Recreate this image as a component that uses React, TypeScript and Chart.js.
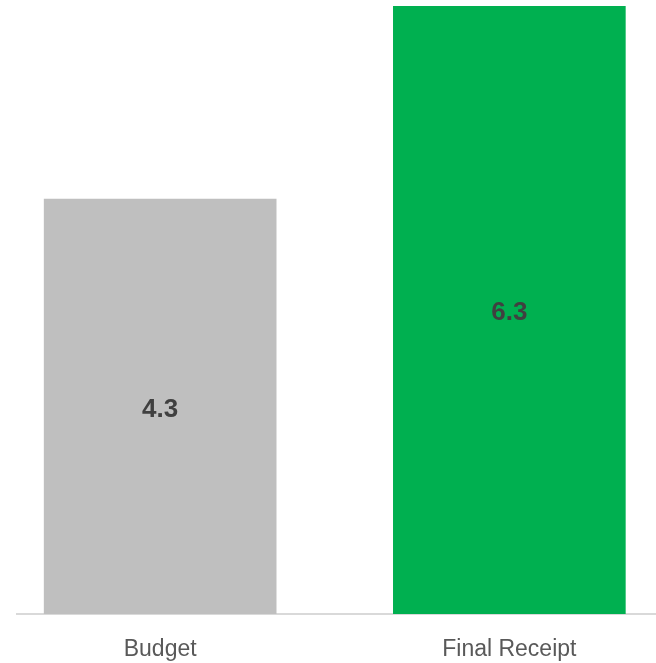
import React, { useEffect, useRef } from "react";
import { Chart, registerables } from "chart.js";

Chart.register(...registerables);

const categories = ["Budget", "Final Receipt"];
const values = [4.3, 6.3];
const barColors = ["#BFBFBF", "#00B050"];
const xPositions = [0, 1];

const valueLabelPlugin = {
  id: "valueLabels",
  afterDatasetsDraw(chart: any) {
    const ctx = chart.ctx;
    const meta = chart.getDatasetMeta(0);
    ctx.save();
    ctx.font = "bold 26px 'Liberation Sans', Arial, sans-serif";
    ctx.fillStyle = "#404040";
    ctx.textAlign = "center";
    ctx.textBaseline = "middle";
    meta.data.forEach((el: any, i: number) => {
      const y = (el.y + el.base) / 2 + 3;
      ctx.fillText(values[i].toFixed(1), el.x, y);
    });
    ctx.restore();
  },
};

export default function App() {
  const ref = useRef<HTMLCanvasElement | null>(null);
  useEffect(() => {
    document.body.style.margin = "0";
    const chart = new Chart(ref.current as HTMLCanvasElement, {
      type: "bar",
      data: {
        datasets: [
          {
            data: xPositions.map((x, i) => ({ x, y: values[i] })),
            backgroundColor: barColors,
            borderWidth: 0,
            barThickness: 232,
          },
        ],
      },
      options: {
        animation: false,
        responsive: false,
        maintainAspectRatio: false,
        layout: { padding: { top: 6, left: 17, right: 0, bottom: 2 } },
        plugins: {
          legend: { display: false },
          tooltip: { enabled: false },
        },
        scales: {
          x: {
            type: "linear",
            offset: false,
            min: -0.41,
            max: 1.42,
            grid: { display: false, drawTicks: false },
            border: { display: true, color: "#D9D9D9", width: 2 },
            afterBuildTicks: (scale: any) => {
              scale.ticks = xPositions.map((v) => ({ value: v }));
            },
            afterFit: (scale: any) => {
              scale.height = 47;
            },
            ticks: {
              padding: 22,
              color: "#595959",
              font: { family: "'Liberation Sans', Arial, sans-serif", size: 23 },
              callback: (v: any) => {
                const i = Math.round(Number(v));
                return categories[i] !== undefined ? categories[i] : "";
              },
            },
          },
          y: {
            display: false,
            min: 0,
            max: 6.3,
          },
        },
      },
      plugins: [valueLabelPlugin],
    });
    return () => chart.destroy();
  }, []);
  return (
    <div style={{ width: 656, height: 663 }}>
      <canvas ref={ref} width={656} height={663} style={{ display: "block" }} />
    </div>
  );
}
